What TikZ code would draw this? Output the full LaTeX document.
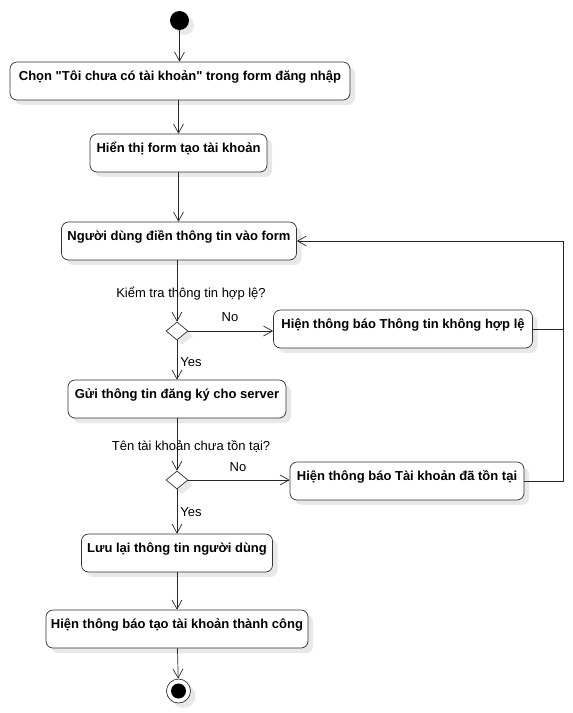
\documentclass[tikz,border=0pt]{standalone}
\usepackage{fontspec}
\setmainfont{Liberation Sans}[Ligatures=TeXOff]
\usetikzlibrary{arrows.meta,shadows,shapes.geometric}

\tikzset{
  bong/.style={drop shadow={shadow xshift=5pt,shadow yshift=-5pt,fill=black!9,opacity=1}},
  hd/.style={draw=black!80,line width=0.7pt,rounded corners=7pt,fill=white,bong,
    font=\bfseries\fontsize{13}{15}\selectfont,inner xsep=3pt,inner ysep=3pt,
    text height=15pt,text depth=17pt},
  dk/.style={draw=black!80,line width=0.7pt,diamond,fill=white,bong,inner sep=0pt,
    minimum width=22pt,minimum height=18pt},
  nhan/.style={font=\fontsize{13}{15}\selectfont,inner sep=1pt},
  mt/.style={-{Straight Barb[length=9pt,width=10pt]},line width=0.7pt,draw=black!85}
}

\begin{document}
\begin{tikzpicture}[x=1pt,y=-1pt]
\useasboundingbox (0,0) rectangle (573,713);

\node[circle,fill=black,inner sep=0pt,minimum size=19pt,bong] (bd) at (179.5,20.5) {};
\node[hd,minimum width=340pt] (chon) at (180,81) {Chọn "Tôi chưa có tài khoản" trong form đăng nhập};
\node[hd,minimum width=177pt] (hien) at (178.5,153) {Hiển thị form tạo tài khoản};
\node[hd,minimum width=235pt] (nhap) at (179,241) {Người dùng điền thông tin vào form};
\node[dk] (kt1) at (177,331) {};
\node[hd,minimum width=259pt] (loi1) at (403,329) {Hiện thông báo Thông tin không hợp lệ};
\node[hd,minimum width=218pt] (gui) at (177,399) {Gửi thông tin đăng ký cho server};
\node[dk] (kt2) at (177,480) {};
\node[hd,minimum width=234pt] (loi2) at (407,481) {Hiện thông báo Tài khoản đã tồn tại};
\node[hd,minimum width=191pt] (luu) at (177,553) {Lưu lại thông tin người dùng};
\node[hd,minimum width=262pt] (tc) at (177,629) {Hiện thông báo tạo tài khoản thành công};
\node[circle,draw=black!80,line width=0.7pt,fill=white,inner sep=0pt,minimum size=24pt,bong] (kt) at (178.5,691) {};
\node[circle,fill=black,inner sep=0pt,minimum size=15pt] (ktin) at (kt) {};
\coordinate (ve) at (563,241);

\draw[mt] (bd) -- (bd |- chon.north);
\draw[mt] (hien |- chon.south) -- (hien);
\draw[mt] (hien) -- (hien |- nhap.north);
\draw[mt] (kt1 |- nhap.south) -- (kt1);
\draw[mt] (kt1) -- (gui);
\draw[mt] (kt1) -- (loi1.west |- kt1);
\draw[mt] (gui) -- (kt2);
\draw[mt] (kt2) -- (luu);
\draw[mt] (kt2) -- (loi2.west |- kt2);
\draw[mt] (luu) -- (tc);
\draw[mt] (tc) -- (kt);
\draw[line width=0.7pt,draw=black!85] (loi2.east) -| (ve);
\draw[mt] (loi1.east) -| (ve) -- (nhap.east);

\node[nhan] (g1) at (191,294) {Kiểm tra thông tin hợp lệ?};
\node[nhan] (n1) at (230,317) {No};
\node[nhan] (y1) at (191,362) {Yes};
\node[nhan] (g2) at (191,446) {Tên tài khoản chưa tồn tại?};
\node[nhan] (n2) at (238,467) {No};
\node[nhan] (y2) at (191,512) {Yes};
\end{tikzpicture}
\end{document}
